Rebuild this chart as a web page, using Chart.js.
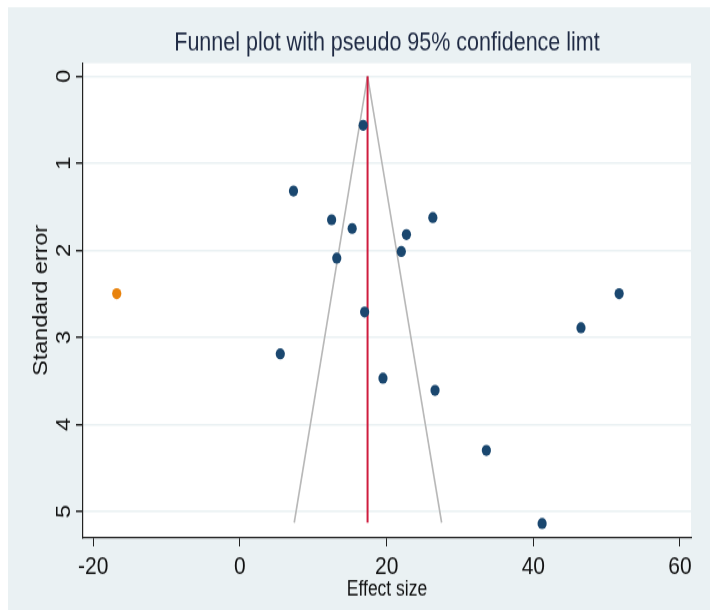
<!DOCTYPE html>
<html>
<head>
<meta charset="utf-8">
<script src="https://cdn.jsdelivr.net/npm/chart.js@4/dist/chart.umd.min.js"></script>
<style>
  html, body { margin: 0; padding: 0; background: #fff; width: 710px; height: 610px; overflow: hidden; }
  /* the original picture is stretched vertically, so the canvas is too */
  #grafico { display: block; transform: scaleY(1.2008); transform-origin: 0 0; }
</style>
</head>
<body>
<canvas id="grafico" width="710" height="508"></canvas>
<script>
// values
const effectSize = [16.8, 7.3, 12.5, 15.3, 26.3, 22.7, 22.0, 13.2, 17.0, 51.7, 46.5, 5.5, 19.5, 26.6, 33.6, 41.2];
const stdError   = [0.565, 1.32, 1.65, 1.75, 1.625, 1.82, 2.015, 2.09, 2.71, 2.50, 2.89, 3.19, 3.47, 3.61, 4.30, 5.14];
const filledEffect = [-16.8];
const filledSE     = [2.50];
const pooledX  = [17.4, 17.4];
const lineSE   = [0, 5.13];
const funnelLo = [17.4, 7.4];
const funnelHi = [17.4, 27.5];
const xTicks = [-20, 0, 20, 40, 60];
const yTicks = [0, 1, 2, 3, 4, 5];

const FONT = "'Liberation Sans', Arial, sans-serif";
const pts = (xs, ys) => xs.map((x, i) => ({ x, y: ys[i] }));

// Stata-like background: bluish graph region, white plot region
const fundo = {
  id: 'fundo',
  beforeDraw(chart) {
    const { ctx, chartArea: a, width, height } = chart;
    ctx.save();
    ctx.fillStyle = '#ffffff';
    ctx.fillRect(0, 0, width, height);
    ctx.fillStyle = '#eaf1f3';
    ctx.fillRect(8, 6, width - 8, height - 6);
    ctx.fillStyle = '#ffffff';
    ctx.fillRect(a.left, a.top, a.right - a.left, a.bottom - a.top);
    ctx.restore();
  }
};

new Chart(document.getElementById('grafico'), {
  type: 'scatter',
  data: {
    datasets: [
      { data: pts(effectSize, stdError), backgroundColor: '#1a476f', borderWidth: 0, pointRadius: 4.6, order: 1 },
      { data: pts(filledEffect, filledSE), backgroundColor: '#e8820c', borderWidth: 0, pointRadius: 4.6, order: 1 },
      { data: pts(pooledX, lineSE), showLine: true, borderColor: '#cf1c3e', borderWidth: 2, pointRadius: 0, order: 2 },
      { data: pts(funnelLo, lineSE), showLine: true, borderColor: '#b8b8b8', borderWidth: 1.6, pointRadius: 0, order: 3 },
      { data: pts(funnelHi, lineSE), showLine: true, borderColor: '#b8b8b8', borderWidth: 1.6, pointRadius: 0, order: 3 }
    ]
  },
  options: {
    responsive: false,
    devicePixelRatio: 1,
    animation: false,
    layout: { padding: { left: 8, right: 19, top: 0, bottom: 0 } },
    plugins: {
      legend: { display: false },
      tooltip: { enabled: false },
      title: {
        display: true,
        fullSize: false,
        text: 'Funnel plot with pseudo 95% confidence limt',
        color: '#1f2a44',
        font: { family: FONT, size: 21.5, weight: 'normal' },
        padding: { top: 22.9, bottom: 3.9 }
      }
    },
    scales: {
      x: {
        type: 'linear',
        min: -21.4, max: 61.5,
        afterBuildTicks: s => { s.ticks = xTicks.map(v => ({ value: v })); },
        afterFit: s => { s.height = 60.5; },
        grid: { drawOnChartArea: false, tickColor: '#222', tickLength: 7.5, lineWidth: 1 },
        border: { color: '#222', width: 1.2 },
        ticks: { color: '#111', font: { family: FONT, size: 21 }, padding: 4.5, maxRotation: 0 },
        title: { display: true, text: 'Effect size', color: '#111', font: { family: FONT, size: 17.5 }, padding: { top: 0, bottom: 6 } }
      },
      y: {
        type: 'linear',
        reverse: true,
        min: -0.149, max: 5.299,
        afterBuildTicks: s => { s.ticks = yTicks.map(v => ({ value: v })); },
        afterFit: s => { s.width = 75; },
        grid: { color: '#eaf1f3', lineWidth: 1.5, tickColor: '#222', tickLength: 7 },
        border: { color: '#222', width: 1.2 },
        ticks: { color: '#111', font: { family: FONT, size: 20 }, minRotation: 90, maxRotation: 90, crossAlign: 'center', padding: 6.3 },
        title: { display: true, text: 'Standard error', color: '#111', font: { family: FONT, size: 19.5 }, padding: { top: 22, bottom: 0 } }
      }
    }
  },
  plugins: [fundo]
});
</script>
</body>
</html>
